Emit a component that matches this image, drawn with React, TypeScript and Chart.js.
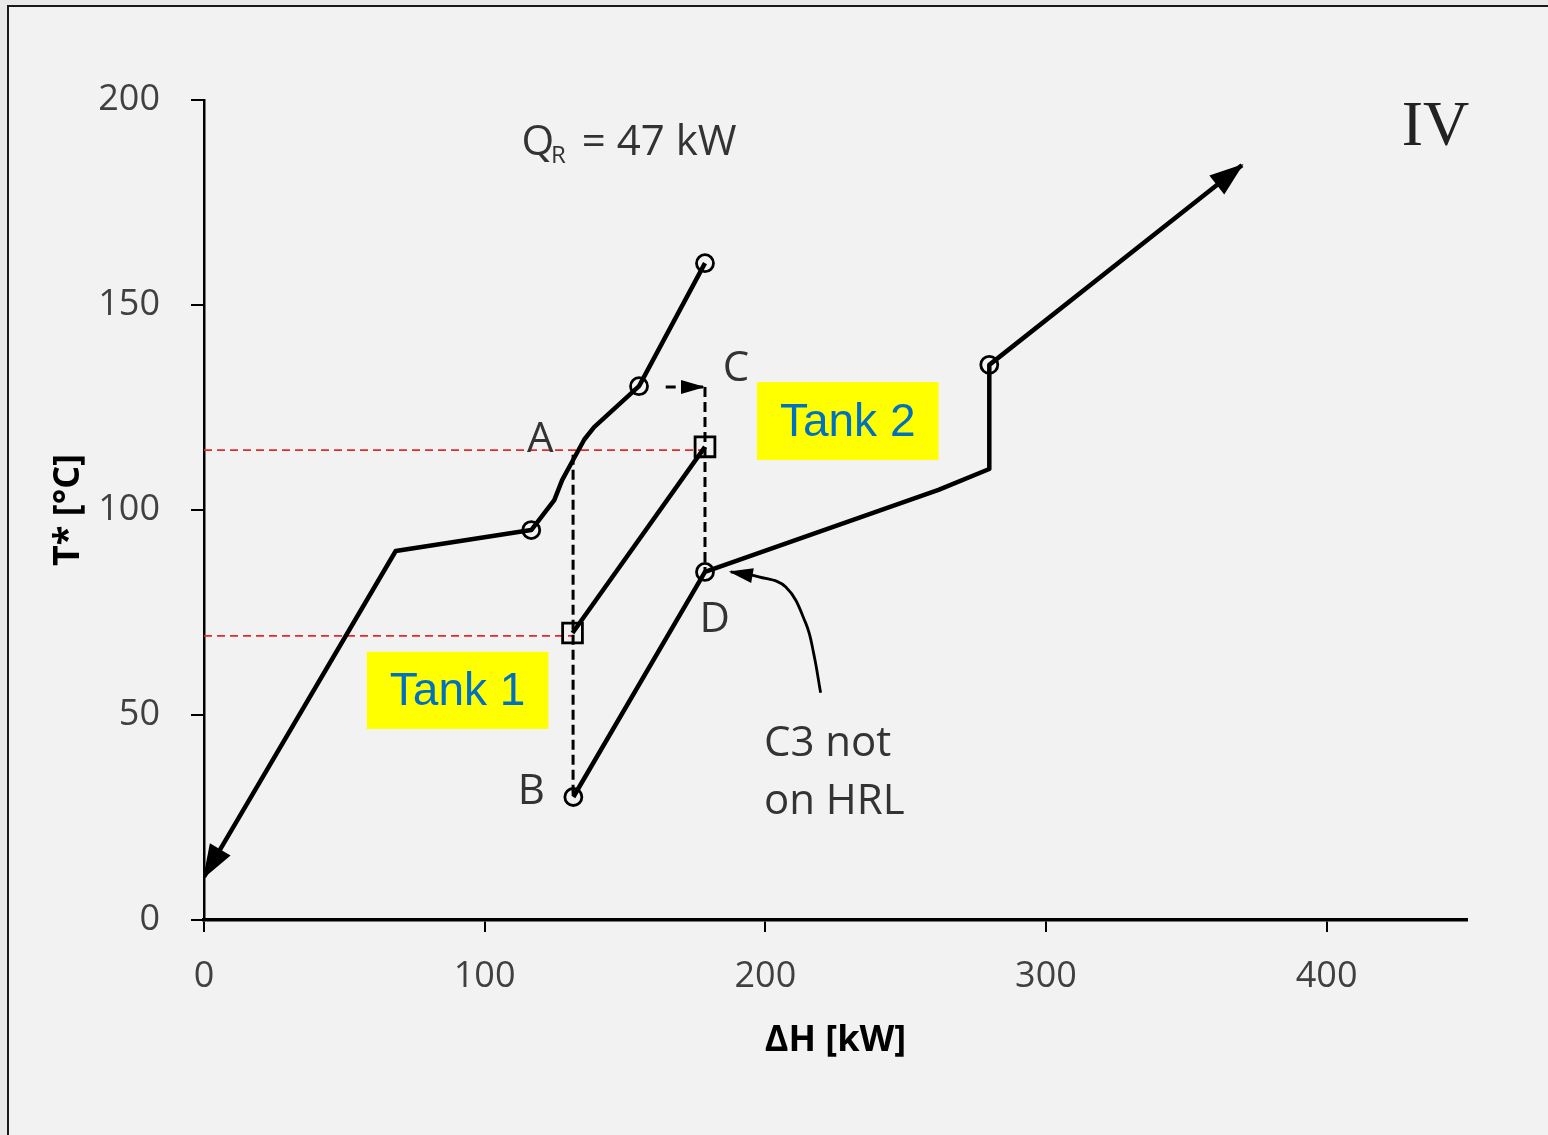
import React, { useEffect, useRef } from "react";
import { Chart, registerables } from "chart.js";

Chart.register(...registerables);

// ---------- data ----------
const xTicks = [0, 100, 200, 300, 400];
const yTicks = [0, 50, 100, 150, 200];

// hot curve (drawn from top end towards arrow at origin)
const hotX = [178.5, 155, 139, 135.5, 131.5, 127.6, 124.8, 116.6, 68.3, 0];
const hotY = [160.2, 130.2, 120.2, 117.2, 112.2, 107.3, 102.4, 95.1, 90, 10.5];
const hotMarkX = [178.5, 155, 116.6];
const hotMarkY = [160.2, 130.2, 95.1];

// tank line (squares)
const tankX = [131.3, 178.5];
const tankY = [70, 115.4];

// cold curve (arrow at top right)
const coldX = [131.6, 178.5, 261.7, 279.8, 279.8, 369.8];
const coldY = [30, 84.9, 104.9, 110, 135.4, 184.1];
const coldMarkX = [131.6, 178.5, 279.8];
const coldMarkY = [30, 84.9, 135.4];

// shift arrow and dashed guides
const shiftX = [164.5, 177.8];
const shiftY = [130, 130];
const dropAX = [131.5, 131.5];
const dropAY = [113.5, 30];
const dropCX = [178.5, 178.5];
const dropCY = [130, 84.9];
const redHighX = [0, 178.5];
const redHighY = [114.6, 114.6];
const redLowX = [0, 131.5];
const redLowY = [69.3, 69.3];

// annotation pointer "C3 not on HRL"
const pointerX = [219.7, 217.2, 214.4, 207.3, 197.7, 187.7];
const pointerY = [55.4, 65.1, 72.4, 81.2, 83.7, 84.9];

const zip = (xs: number[], ys: number[]) => xs.map((x, i) => ({ x, y: ys[i] }));

// ---------- plugins ----------
const framePlugin = {
  id: "frame",
  beforeDraw(chart: any) {
    const { ctx, width, height } = chart;
    ctx.save();
    ctx.fillStyle = "#e9e9e9";
    ctx.fillRect(0, 0, width, height);
    ctx.fillStyle = "#f2f2f2";
    ctx.fillRect(9, 7, width - 9, height - 7);
    ctx.strokeStyle = "#1a1a1a";
    ctx.lineWidth = 2;
    ctx.beginPath();
    ctx.moveTo(8, height);
    ctx.lineTo(8, 6);
    ctx.lineTo(width, 6);
    ctx.stroke();
    ctx.restore();
  },
};

const arrowPlugin = {
  id: "arrowHeads",
  afterDatasetsDraw(chart: any) {
    const ctx = chart.ctx;
    chart.data.datasets.forEach((ds: any, i: number) => {
      if (!ds.arrowHead) return;
      const pts = chart.getDatasetMeta(i).data;
      const n = pts.length;
      const tip = pts[n - 1];
      const prev = pts[n - 2];
      const ang = Math.atan2(tip.y - prev.y, tip.x - prev.x);
      const { length, width } = ds.arrowHead;
      ctx.save();
      ctx.translate(tip.x, tip.y);
      ctx.rotate(ang);
      ctx.fillStyle = "#000";
      ctx.beginPath();
      ctx.moveTo(2, 0);
      ctx.lineTo(-length, width / 2);
      ctx.lineTo(-length, -width / 2);
      ctx.closePath();
      ctx.fill();
      ctx.restore();
    });
  },
};

const labelPlugin = {
  id: "labels",
  afterDraw(chart: any) {
    const { ctx } = chart;
    const sx = chart.scales.x;
    const sy = chart.scales.y;
    const px = (v: number) => sx.getPixelForValue(v);
    const py = (v: number) => sy.getPixelForValue(v);
    ctx.save();

    // yellow tank boxes
    const boxes = [
      { text: "Tank 2", x0: 197, x1: 261.7, y0: 131.2, y1: 112.2 },
      { text: "Tank 1", x0: 58, x1: 122.7, y0: 65.4, y1: 46.6 },
    ];
    boxes.forEach((b) => {
      const l = px(b.x0), r = px(b.x1), t = py(b.y0), btm = py(b.y1);
      ctx.fillStyle = "#ffff00";
      ctx.fillRect(l, t, r - l, btm - t);
      ctx.fillStyle = "#0070c0";
      ctx.font = "46px 'Liberation Sans', Arial, sans-serif";
      ctx.textAlign = "center";
      ctx.textBaseline = "middle";
      ctx.fillText(b.text, (l + r) / 2, (t + btm) / 2 + 2);
    });

    // point letters
    ctx.fillStyle = "#333333";
    ctx.font = "42px 'Open Sans', sans-serif";
    ctx.textAlign = "center";
    ctx.textBaseline = "middle";
    const letters = [
      { text: "A", x: 119.8, y: 117.1 },
      { text: "B", x: 116.6, y: 31.2 },
      { text: "C", x: 189.5, y: 134.4 },
      { text: "D", x: 182, y: 73.2 },
    ];
    letters.forEach((l) => ctx.fillText(l.text, px(l.x), py(l.y)));

    // C3 note
    ctx.textAlign = "left";
    ctx.fillText("C3 not", px(199.5), py(42.9));
    ctx.fillText("on HRL", px(199.5), py(28.8));

    // Q_R = 47 kW
    const qx = px(113.1);
    const qy = py(189.5);
    ctx.font = "42px 'Open Sans', sans-serif";
    ctx.fillText("Q", qx, qy);
    const wQ = ctx.measureText("Q").width;
    ctx.font = "24px 'Open Sans', sans-serif";
    ctx.fillText("R", qx + wQ - 3, qy + 13);
    const wR = ctx.measureText("R").width;
    ctx.font = "42px 'Open Sans', sans-serif";
    ctx.fillText(" = 47 kW", qx + wQ + wR + 2, qy);

    // IV
    ctx.fillStyle = "#222222";
    ctx.font = "64px 'Liberation Serif', 'Times New Roman', serif";
    ctx.textAlign = "center";
    ctx.fillText("IV", px(438.8), py(193.2));

    ctx.restore();
  },
};

// ---------- component ----------
export default function App() {
  const ref = useRef<HTMLCanvasElement | null>(null);

  useEffect(() => {
    if (!ref.current) return;
    const lineBase = {
      showLine: true,
      pointRadius: 0,
      borderColor: "#000000",
      backgroundColor: "#000000",
      borderJoinStyle: "round",
      fill: false,
    };
    const markerBase = {
      showLine: false,
      pointStyle: "circle",
      pointRadius: 8.5,
      pointBorderWidth: 2.8,
      pointBorderColor: "#000000",
      pointBackgroundColor: "rgba(0,0,0,0)",
    };
    const chart = new Chart(ref.current, {
      type: "scatter",
      data: {
        datasets: [
          { ...markerBase, data: zip(hotMarkX, hotMarkY) },
          { ...markerBase, data: zip(coldMarkX, coldMarkY) },
          {
            ...lineBase,
            data: zip(tankX, tankY),
            borderWidth: 4.5,
            pointStyle: "rect",
            pointRadius: 14,
            pointBorderWidth: 2.8,
            pointBorderColor: "#000000",
            pointBackgroundColor: "rgba(0,0,0,0)",
          },
          { ...lineBase, data: zip(hotX, hotY), borderWidth: 4.5, arrowHead: { length: 32, width: 24 } },
          { ...lineBase, data: zip(coldX, coldY), borderWidth: 4.5, arrowHead: { length: 32, width: 24 } },
          { ...lineBase, data: zip(shiftX, shiftY), borderWidth: 3, borderDash: [10, 6], arrowHead: { length: 22, width: 14 } },
          { ...lineBase, data: zip(dropAX, dropAY), borderWidth: 3, borderDash: [10, 5] },
          { ...lineBase, data: zip(dropCX, dropCY), borderWidth: 3, borderDash: [10, 5] },
          { ...lineBase, data: zip(redHighX, redHighY), borderWidth: 1.8, borderColor: "#e32b2b", borderDash: [8, 5] },
          { ...lineBase, data: zip(redLowX, redLowY), borderWidth: 1.8, borderColor: "#e32b2b", borderDash: [8, 5] },
          { ...lineBase, data: zip(pointerX, pointerY), borderWidth: 2.8, tension: 0.4, arrowHead: { length: 22, width: 15 } },
        ] as any,
      },
      options: {
        responsive: false,
        animation: false,
        layout: { padding: { left: 0, right: 81, top: 100, bottom: 65 } },
        plugins: { legend: { display: false }, tooltip: { enabled: false } },
        scales: {
          x: {
            type: "linear",
            min: 0,
            max: 450,
            afterBuildTicks: (s: any) => {
              s.ticks = xTicks.map((v) => ({ value: v }));
            },
            afterFit: (s: any) => {
              s.height = 150;
            },
            grid: { drawOnChartArea: false, drawTicks: true, tickLength: 12, color: "#000000", lineWidth: 2 },
            border: { display: true, color: "#000000", width: 3.5 },
            ticks: { color: "#404040", padding: 23, font: { family: "'Open Sans', sans-serif", size: 36 } },
            title: {
              display: true,
              text: "ΔH [kW]",
              color: "#000000",
              padding: { top: 4, bottom: 8 },
              font: { family: "'Open Sans', sans-serif", size: 36, weight: "bold" },
            },
          },
          y: {
            type: "linear",
            min: 0,
            max: 200,
            afterBuildTicks: (s: any) => {
              s.ticks = yTicks.map((v) => ({ value: v }));
            },
            afterFit: (s: any) => {
              s.width = 204;
            },
            grid: { drawOnChartArea: false, drawTicks: true, tickLength: 13, color: "#000000", lineWidth: 2 },
            border: { display: true, color: "#000000", width: 2.5 },
            ticks: { color: "#404040", padding: 31, font: { family: "'Open Sans', sans-serif", size: 36 } },
            title: {
              display: true,
              text: "T* [°C]",
              color: "#000000",
              padding: { top: 47, bottom: 4 },
              font: { family: "'Open Sans', sans-serif", size: 36, weight: "bold" },
            },
          },
        },
      } as any,
      plugins: [framePlugin, arrowPlugin, labelPlugin],
    });
    return () => chart.destroy();
  }, []);

  return (
    <div style={{ position: "fixed", left: 0, top: 0, width: 1548, height: 1135 }}>
      <canvas ref={ref} width={1548} height={1135} style={{ display: "block" }} />
    </div>
  );
}
